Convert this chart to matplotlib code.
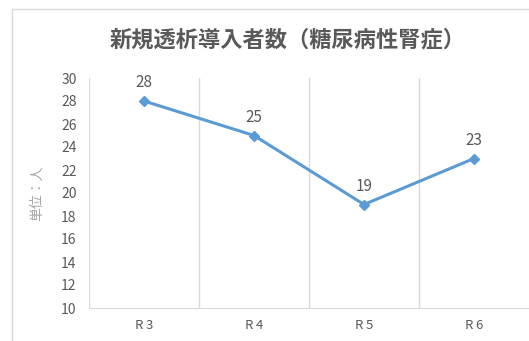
import matplotlib.pyplot as plt
from matplotlib.patches import Rectangle

plt.rcParams['font.family'] = ['Noto Sans CJK JP', 'DejaVu Sans']

# データ
years = ['R3', 'R4', 'R5', 'R6']
counts = [28, 25, 19, 23]

W, H = 529, 341
fig = plt.figure(figsize=(W / 100, H / 100), dpi=100)

# 外枠（右・下は画像外）
fig.patches.append(Rectangle((12 / W, -0.1), 1.2, 1 - 9 / H + 0.1,
                             transform=fig.transFigure, fill=False,
                             edgecolor='#d9d9d9', linewidth=1))

ax = fig.add_axes([89 / W, 1 - 308 / H, (529 - 89) / W, (308 - 78) / H])

x = list(range(len(years)))
ax.plot(x, counts, color='#5b9bd5', linewidth=2.2, marker='D', markersize=5.5)
for xi, v in zip(x, counts):
    ax.annotate(str(v), (xi, v), xytext=(0, 7), textcoords='offset points',
                ha='center', va='bottom', fontsize=11, color='#595959')

ax.set_xlim(-0.5, len(years) - 0.5)
ax.set_ylim(10, 30)
ax.set_yticks(range(10, 31, 2))
ax.set_xticks(x)
ax.set_xticklabels(['\u2009'.join(y) for y in years])
for b in [-0.5, 0.5, 1.5, 2.5]:
    ax.axvline(b, color='#d9d9d9', linewidth=1, zorder=0)

for s in ['top', 'right', 'left']:
    ax.spines[s].set_visible(False)
ax.spines['bottom'].set_color('#d9d9d9')
ax.tick_params(length=0, labelsize=9.5, colors='#595959', pad=8)
ax.tick_params(axis='y', labelsize=10, pad=9)

ax.set_ylabel('単位：人', fontsize=10, color='#a6a6a6', labelpad=12)
fig.text(288 / W, 1 - 40 / H, '新規透析導入者数（糖尿病性腎症）',
         ha='center', va='center', fontsize=16, fontweight='bold',
         color='#595959')

fig.savefig('out.png', dpi=100)
